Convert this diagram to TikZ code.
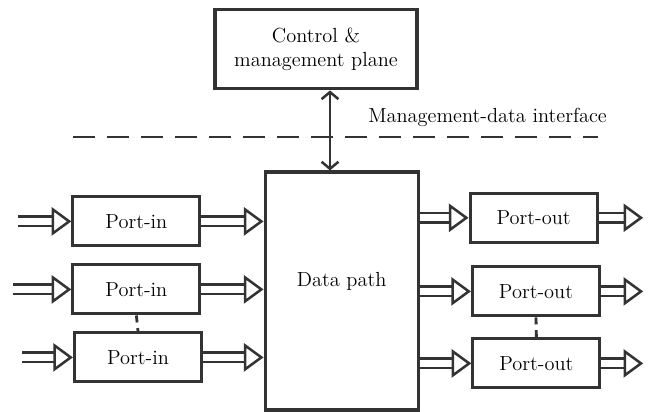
\documentclass[tikz,border=0pt]{standalone}
\usetikzlibrary{arrows.meta, positioning, calc}
\tikzset{
  boxln/.style   = {draw=black!80, line width=2.2pt, align=center, inner sep=4pt},
  portbox/.style = {boxln, minimum width=3.175cm, minimum height=1.225cm},
  hollowarr/.style = {draw=black!80, double, double distance=5pt, line width=1.8pt,
                      -{Triangle[open, length=14pt, width=20pt, line width=1.8pt]}},
  dasharr/.style = {draw=black!80, line width=2pt, dash pattern=on 0.55cm off 0.3cm},
  linkln/.style  = {draw=black!80, line width=2pt, dash pattern=on 5pt off 4pt},
}
\begin{document}
\begin{tikzpicture}[every node/.style={font=\fontsize{14.5}{16.5}\selectfont}]
\useasboundingbox (0,0) rectangle (16.2,10.275);

%% ---- Control & management plane ----
\node[boxln, minimum width=5.05cm, minimum height=1.975cm] (ctrl) at (7.9, 9.04)
  {Control \&\\management plane};

%% ---- Data path ----
\node[boxln, minimum width=3.825cm, minimum height=5.95cm] (dp) at (8.54, 3.0) {};
\node (dplabel) at (8.54, 3.25) {Data path};

%% ---- Management-data interface ----
\coordinate (dashL) at (1.825, 6.85);
\coordinate (dashR) at (14.95, 6.85);
\draw[dasharr] (dashL) -- (dashR);
\node (mdi) at (12.19, 7.33) {Management-data interface};

\draw[line width=1.8pt, draw=black!80, {Straight Barb[length=5pt, width=12pt]}-{Straight Barb[length=5pt, width=12pt]}]
  ([xshift=-0.29cm]dp.north |- ctrl.south) -- ([xshift=-0.29cm]dp.north);

%% ---- Input ports ----
\node[portbox] (in1) at (3.41, 4.74) {Port-in};
\node[portbox] (in2) at (3.41, 3.04) {Port-in};
\node[portbox] (in3) at (3.45, 1.34) {Port-in};
\draw[linkln] (in2.south) -- (in3.north);

\coordinate (src1) at (0.45, 4.74);
\coordinate (src2) at (0.33, 3.04);
\coordinate (src3) at (0.55, 1.34);
\foreach \i in {1,2,3} {
  \draw[hollowarr] (src\i) -- (in\i.west);
  \draw[hollowarr] (in\i.east) -- (in\i.east -| dp.west);
}

%% ---- Output ports ----
\node[portbox] (out1) at (13.34, 4.83) {Port-out};
\node[portbox] (out2) at (13.40, 2.99) {Port-out};
\node[portbox] (out3) at (13.41, 1.19) {Port-out};
\draw[linkln] (out2.south) -- (out3.north);

\foreach \i in {1,2,3} {
  \coordinate (dst\i) at (16.08, 0 |- out\i.east);
  \draw[hollowarr] (dp.east |- out\i.west) -- (out\i.west);
  \draw[hollowarr] (out\i.east) -- (dst\i);
}

\end{tikzpicture}
\end{document}
